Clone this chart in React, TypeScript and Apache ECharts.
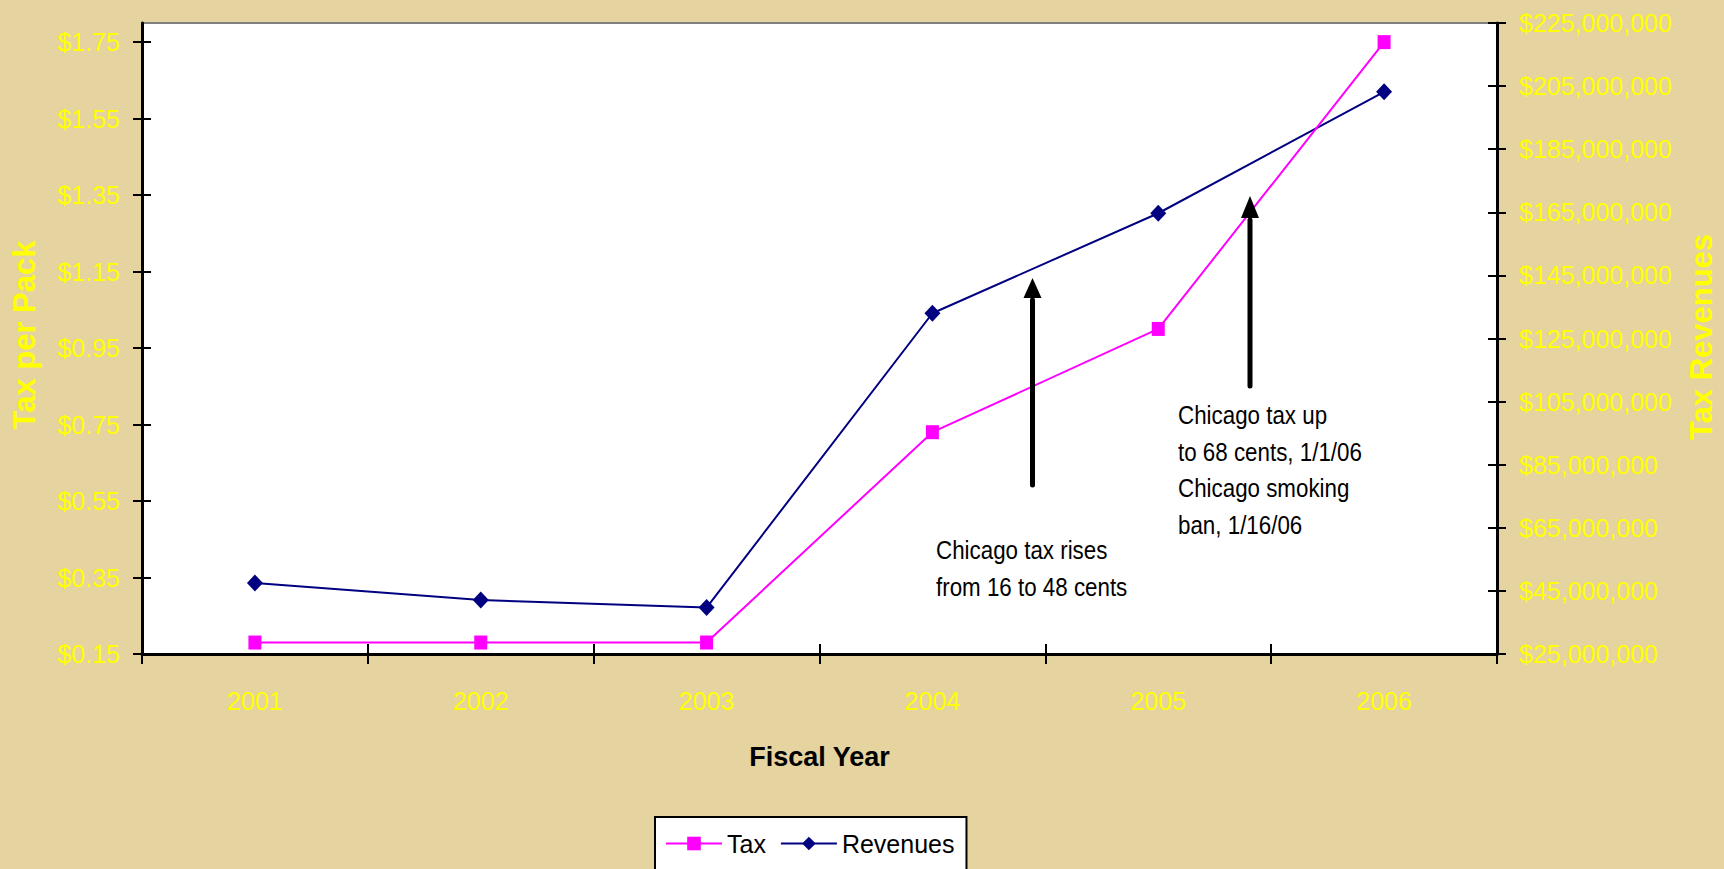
import React, { useEffect, useRef } from "react";
import * as echarts from "echarts";

const years = ["2001", "2002", "2003", "2004", "2005", "2006"];
const taxPerPack = [0.18, 0.18, 0.18, 0.73, 1.0, 1.75];
const taxRevenues = [47500000, 42100000, 39700000, 133000000, 164700000, 203200000];
const leftTicks = [0.15, 0.35, 0.55, 0.75, 0.95, 1.15, 1.35, 1.55, 1.75];
const rightTicks = [25000000, 45000000, 65000000, 85000000, 105000000, 125000000, 145000000, 165000000, 185000000, 205000000, 225000000];
const noteRise = ["Chicago tax rises", "from 16 to 48 cents"];
const noteUp = ["Chicago tax up", "to 68 cents, 1/1/06", "Chicago smoking", "ban, 1/16/06"];

const SANS = '"Liberation Sans", Arial, sans-serif';
const YELLOW = "#FFFF00";
const BG = "#E5D3A0";

function arrow(x: number, tip: number, base: number, bottom: number) {
  return [
    {
      type: "line",
      shape: { x1: x, y1: bottom, x2: x, y2: base + 2 },
      style: { stroke: "#000", lineWidth: 5, lineCap: "round" },
      z: 10,
    },
    {
      type: "polygon",
      shape: { points: [[x, tip], [x - 9, base], [x + 9, base]] },
      style: { fill: "#000" },
      z: 10,
    },
  ];
}

function note(lines: string[], x: number, top: number) {
  return {
    type: "text",
    x,
    y: top,
    scaleX: 0.86,
    z: 10,
    style: {
      text: lines.join("\n"),
      fill: "#000",
      font: `26px ${SANS}`,
      fontSize: 26,
      fontFamily: SANS,
      lineHeight: 36.5,
      align: "left",
      verticalAlign: "top",
      textAlign: "left",
      textVerticalAlign: "top",
    },
  };
}

function vname(text: string, x: number, y: number) {
  return {
    type: "text",
    x,
    y,
    rotation: Math.PI / 2,
    z: 10,
    style: {
      text,
      fill: YELLOW,
      font: `bold 31px ${SANS}`,
      fontSize: 31,
      fontWeight: "bold",
      fontFamily: SANS,
      align: "center",
      verticalAlign: "middle",
      textAlign: "center",
      textVerticalAlign: "middle",
    },
  };
}

export default function App() {
  const ref = useRef<HTMLDivElement>(null);
  useEffect(() => {
    if (!ref.current) return;
    const chart = echarts.init(ref.current, null, { renderer: "svg" });
    const tickLabel = {
      color: YELLOW,
      fontSize: 25,
      fontFamily: SANS,
    };
    chart.setOption({
      animation: false,
      backgroundColor: BG,
      grid: {
        left: 142,
        right: 1724 - 1497,
        top: 23,
        bottom: 869 - 654,
        show: true,
        backgroundColor: "#FFFFFF",
        borderColor: "#808080",
        borderWidth: 2,
      },
      legend: {
        left: 655,
        top: 817,
        orient: "horizontal",
        backgroundColor: "#FFFFFF",
        borderColor: "#000",
        borderWidth: 2,
        padding: [14, 12, 14, 10],
        itemGap: 14,
        itemWidth: 56,
        itemHeight: 17,
        textStyle: { color: "#000", fontSize: 25, fontFamily: SANS },
        data: ["Tax", "Revenues"],
      },
      xAxis: [
        {
          type: "category",
          data: years,
          position: "bottom",
          boundaryGap: true,
          axisLine: { show: true, lineStyle: { color: "#000", width: 3 } },
          axisTick: { show: true, length: 10, lineStyle: { color: "#000", width: 2 } },
          axisLabel: { ...tickLabel, margin: 34 },
          splitLine: { show: false },
          name: "Fiscal Year",
          nameLocation: "middle",
          nameGap: 89,
          nameTextStyle: { color: "#000", fontSize: 27, fontWeight: "bold", fontFamily: SANS },
        },
        {
          type: "category",
          data: years,
          position: "bottom",
          boundaryGap: true,
          axisLine: { show: false },
          axisTick: { show: true, inside: true, length: 10, lineStyle: { color: "#000", width: 2 } },
          axisLabel: { show: false },
          splitLine: { show: false },
        },
      ],
      yAxis: [
        {
          type: "value",
          position: "left",
          min: 0.15,
          max: 1.8,
          axisLine: { show: true, lineStyle: { color: "#000", width: 3 } },
          axisTick: { show: true, length: 9, customValues: leftTicks, lineStyle: { color: "#000", width: 2 } },
          axisLabel: {
            ...tickLabel,
            margin: 22,
            customValues: leftTicks,
            formatter: (v: number) => "$" + v.toFixed(2),
          },
          splitLine: { show: false },
        },
        {
          type: "value",
          position: "right",
          min: 25000000,
          max: 225000000,
          axisLine: { show: true, lineStyle: { color: "#000", width: 3 } },
          axisTick: { show: true, length: 9, customValues: rightTicks, lineStyle: { color: "#000", width: 2 } },
          axisLabel: {
            ...tickLabel,
            margin: 22,
            customValues: rightTicks,
            formatter: (v: number) => "$" + Math.round(v).toLocaleString("en-US"),
          },
          splitLine: { show: false },
        },
        {
          type: "value",
          position: "left",
          min: 0.15,
          max: 1.8,
          axisLine: { show: false },
          axisTick: { show: true, inside: true, length: 9, customValues: leftTicks, lineStyle: { color: "#000", width: 2 } },
          axisLabel: { show: false },
          splitLine: { show: false },
        },
        {
          type: "value",
          position: "right",
          min: 25000000,
          max: 225000000,
          axisLine: { show: false },
          axisTick: { show: true, inside: true, length: 9, customValues: rightTicks, lineStyle: { color: "#000", width: 2 } },
          axisLabel: { show: false },
          splitLine: { show: false },
        },
      ],
      series: [
        {
          name: "Revenues",
          type: "line",
          xAxisIndex: 0,
          yAxisIndex: 1,
          data: taxRevenues,
          symbol: "diamond",
          symbolSize: [16, 17],
          lineStyle: { color: "#000080", width: 2 },
          itemStyle: { color: "#000080" },
          z: 3,
        },
        {
          name: "Tax",
          type: "line",
          xAxisIndex: 0,
          yAxisIndex: 0,
          data: taxPerPack,
          symbol: "rect",
          symbolSize: [13, 14],
          lineStyle: { color: "#FF00FF", width: 2 },
          itemStyle: { color: "#FF00FF" },
          z: 4,
        },
      ],
      graphic: [
        ...arrow(1032.5, 278, 298, 485),
        ...arrow(1250, 196, 218, 386),
        note(noteRise, 936, 532),
        note(noteUp, 1178, 397),
        vname("Tax per Pack", 24, 335),
        vname("Tax Revenues", 1701, 337),
      ],
    });
    return () => chart.dispose();
  }, []);
  return (
    <div
      ref={ref}
      style={{ position: "absolute", left: 0, top: 0, width: 1724, height: 869 }}
    />
  );
}
